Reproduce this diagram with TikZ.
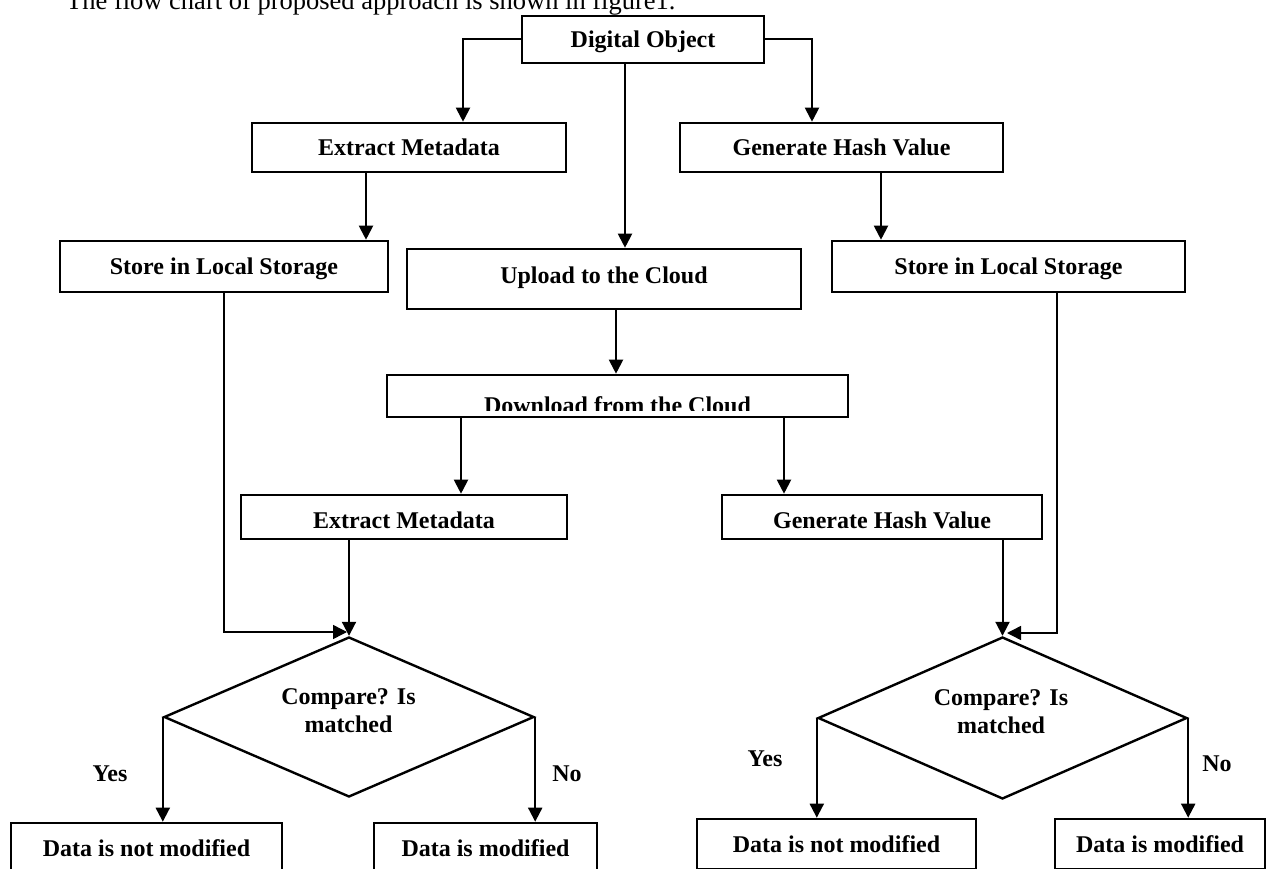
\documentclass[tikz,border=0pt]{standalone}
\usepackage{fontspec}
\setmainfont{Liberation Serif}
\usetikzlibrary{arrows.meta,shapes.geometric,calc}
\begin{document}
\begin{tikzpicture}[x=1pt,y=-1pt,
  box/.style={draw,line width=2.6pt,rectangle,inner sep=0pt,
    font=\fontsize{24}{28}\selectfont\bfseries,text height=16.5pt,text depth=0pt},
  dia/.style={draw,line width=2.4pt,diamond,aspect=2.3,inner sep=0pt,
    minimum width=370pt,minimum height=160pt},
  lbl/.style={font=\fontsize{24}{28}\selectfont\bfseries,inner sep=0pt,align=center},
  arr/.style={line width=2pt,-{Triangle[width=14pt,length=14pt]}},
  thinarr/.style={line width=1.5pt,-{Triangle[width=14pt,length=14pt]}},
  ln/.style={line width=1.5pt},
]
\useasboundingbox (0,0) rectangle (1267,869);
\fill[white] (0,0) rectangle (1267,869);
\clip (0,0) rectangle (1267,869);

% title
\node[anchor=base west,inner sep=0pt,font=\fontsize{26.5}{30}\selectfont] (title) at (66,10)
  {The flow chart of proposed approach is shown in figure1.};

% boxes
\node[box,minimum width=242pt,minimum height=47pt] (dobj) at (643,39.5) {Digital Object};
\node[box,minimum width=314pt,minimum height=49pt] (em1) at (409,147.5) {Extract Metadata};
\node[box,minimum width=323pt,minimum height=49pt] (gh1) at (841.5,147.5) {Generate Hash Value};
\node[box,minimum width=328pt,minimum height=51pt] (sl1) at (224,266.5) {Store in Local Storage};
\node[box,minimum width=394pt,minimum height=60pt,text depth=8pt] (up) at (604,279) {Upload to the Cloud};
\node[box,minimum width=353pt,minimum height=51pt] (sl2) at (1008.5,266.5) {Store in Local Storage};

\begin{scope}
  \clip (387,375) rectangle (848,410);
  \node[lbl,anchor=base] (dlt) at (617.5,413) {Download from the Cloud};
\end{scope}
\node[box,minimum width=461pt,minimum height=42pt] (dl) at (617.5,396) {};

\node[box,minimum width=326pt,minimum height=44pt,text height=22.5pt] (em2) at (404,517) {Extract Metadata};
\node[box,minimum width=320pt,minimum height=44pt,text height=22.5pt] (gh2) at (882,517) {Generate Hash Value};

\node[dia] (d1) at (349,717) {};
\node[lbl] (d1t) at (348.5,711) {Compare? Is\\matched};
\node[dia,minimum width=369pt,minimum height=162pt] (d2) at (1002.5,718) {};
\node[lbl] (d2t) at (1001,712) {Compare? Is\\matched};

\node[box,minimum width=271pt,minimum height=50pt] (nm1) at (146.5,848) {Data is not modified};
\node[box,minimum width=223pt,minimum height=50pt] (m1) at (485.5,848) {Data is modified};
\node[box,minimum width=279pt,minimum height=50pt] (nm2) at (836.5,844) {Data is not modified};
\node[box,minimum width=210pt,minimum height=50pt] (m2) at (1160,844) {Data is modified};

\node[lbl] (yes1) at (110,774) {Yes};
\node[lbl] (no1) at (567,774) {No};
\node[lbl] (yes2) at (765,759) {Yes};
\node[lbl] (no2) at (1217,764) {No};

% helper coordinates
\coordinate (bL) at (463,39.5);
\coordinate (bR) at (812,39.5);
\coordinate (xC) at (625,0);
\coordinate (x1) at (366,0);
\coordinate (x2) at (881,0);
\coordinate (x3) at (616,0);
\coordinate (x4) at (461,0);
\coordinate (x5) at (784,0);
\coordinate (x6) at (349,0);
\coordinate (x7) at (1057,0);
\coordinate (x8) at (1002.5,0);
\coordinate (j1) at (347,632);
\coordinate (j2) at (1007,633);

% connectors
\draw[arr] (dobj.west) -- (bL) -- (bL |- em1.north);
\draw[arr] (dobj.east) -- (bR) -- (bR |- gh1.north);
\draw[arr] (xC |- dobj.south) -- (xC |- up.north);
\draw[arr] (x1 |- em1.south) -- (x1 |- sl1.north);
\draw[arr] (x2 |- gh1.south) -- (x2 |- sl2.north);
\draw[arr] (x3 |- up.south) -- (x3 |- dl.north);
\draw[arr] (x4 |- dl.south) -- (x4 |- em2.north);
\draw[arr] (x5 |- dl.south) -- (x5 |- gh2.north);
\draw[thinarr] (sl1.south) |- (j1);
\draw[arr] (x6 |- em2.south) -- (x6 |- d1.north);
\draw[thinarr] (x7 |- sl2.south) |- (j2);
\draw[arr] (x8 |- gh2.south) -- (x8 |- d2.north);
\draw[arr] (d1.west) -- (d1.west |- nm1.north);
\draw[arr] (d1.east) -- (d1.east |- m1.north);
\draw[arr] (d2.west) -- (d2.west |- nm2.north);
\draw[arr] (d2.east) -- (d2.east |- m2.north);
\end{tikzpicture}
\end{document}
